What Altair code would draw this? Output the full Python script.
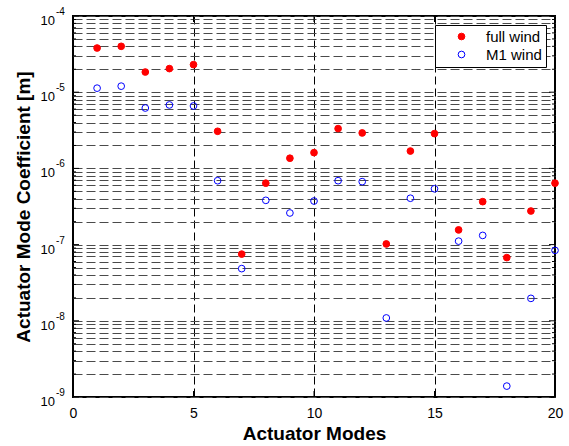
import altair as alt
import pandas as pd

modes = list(range(1, 21))
full_wind = [3.8e-5, 4.0e-5, 1.84e-5, 2.04e-5, 2.3e-5, 3.07e-6, 7.5e-8, 6.4e-7, 1.36e-6, 1.61e-6,
             3.33e-6, 2.92e-6, 1.02e-7, 1.69e-6, 2.86e-6, 1.56e-7, 3.66e-7, 6.75e-8, 2.76e-7, 6.4e-7]
m1_wind = [1.13e-5, 1.2e-5, 6.2e-6, 6.8e-6, 6.6e-6, 6.9e-7, 4.84e-8, 3.81e-7, 2.6e-7, 3.73e-7,
           6.9e-7, 6.7e-7, 1.09e-8, 4.06e-7, 5.4e-7, 1.11e-7, 1.32e-7, 1.39e-9, 1.97e-8, 8.4e-8]
series_names = ["full wind", "M1 wind"]
x_ticks = [0, 5, 10, 15, 20]
decade_exps = [-9, -8, -7, -6, -5, -4]
decades = [10.0 ** e for e in decade_exps]
minor_mult = [2, 3, 4, 5, 6, 7, 8, 9]
minors = [m * 10.0 ** e for e in decade_exps[:-1] for m in minor_mult]
grid_vals = sorted(decades + minors)

W, H = 482, 381
FONT = "Liberation Sans"

df = pd.DataFrame({
    "mode": modes * 2,
    "value": full_wind + m1_wind,
    "series": [series_names[0]] * 20 + [series_names[1]] * 20,
})

xscale = alt.Scale(domain=[0, 20], nice=False, zero=False)
yscale = alt.Scale(type="log", domain=[1e-9, 1e-4], nice=False)

xaxis = alt.Axis(
    values=x_ticks, grid=True, gridDash=[8, 4], gridColor="black", gridWidth=1,
    ticks=False, domain=False, labelFont=FONT, labelFontSize=14, labelColor="black",
    labelFlush=False, labelOverlap=False,
    labelPadding=9, title="Actuator Modes", titleFont=FONT, titleFontSize=19,
    titleFontWeight="bold", titleColor="black", titlePadding=4)
yaxis = alt.Axis(
    values=grid_vals, grid=True, gridDash=[9, 4], gridColor="#4a4a4a", gridWidth=1,
    labels=False, ticks=False, domain=False,
    title="Actuator Mode Coefficient [m]", titleFont=FONT, titleFontSize=19,
    titleFontWeight="bold", titleColor="black", titlePadding=40)

legend = alt.Legend(
    title=None, orient="none", legendX=362, legendY=9,
    strokeColor="black", fillColor="white", padding=4,
    labelFont=FONT, labelFontSize=15, labelColor="black",
    symbolSize=45, symbolStrokeWidth=1, symbolOffset=15, labelOffset=17,
    rowPadding=2, labelExpr="datum.label + '\u00a0\u00a0\u00a0'",
)

points = alt.Chart(df).mark_point(shape="circle", size=45, strokeWidth=1, opacity=1).encode(
    x=alt.X("mode:Q", scale=xscale, axis=xaxis),
    y=alt.Y("value:Q", scale=yscale, axis=yaxis),
    color=alt.Color("series:N", scale=alt.Scale(domain=series_names, range=["#ff0000", "#0000ff"]), legend=legend),
    fill=alt.Fill("series:N", scale=alt.Scale(domain=series_names, range=["#ff0000", "transparent"]), legend=legend),
)

ydec = pd.DataFrame({"value": decades, "exp": [str(e) for e in decade_exps]})
yminor = pd.DataFrame({"value": minors})
xt = pd.DataFrame({"mode": x_ticks})

def yrule(data, x1, x2):
    return alt.Chart(data).mark_rule(color="black", strokeWidth=1).encode(
        y=alt.Y("value:Q", scale=yscale, axis=yaxis),
        x=alt.value(x1), x2=alt.value(x2))

def xrule(y1, y2):
    return alt.Chart(xt).mark_rule(color="black", strokeWidth=1).encode(
        x=alt.X("mode:Q", scale=xscale, axis=xaxis),
        y=alt.value(y1), y2=alt.value(y2))

ticks = [
    yrule(ydec, 0, 6), yrule(ydec, W - 6, W),
    yrule(yminor, 0, 3), yrule(yminor, W - 3, W),
    xrule(H - 6, H), xrule(0, 6),
]

base_lbl = alt.Chart(ydec).mark_text(
    text="10", align="right", baseline="alphabetic", font=FONT, fontSize=13, color="black", dy=9
).encode(y=alt.Y("value:Q", scale=yscale, axis=yaxis), x=alt.value(-18))

exp_lbl = alt.Chart(ydec).mark_text(
    align="left", baseline="alphabetic", font=FONT, fontSize=10, color="black", dy=-1
).encode(y=alt.Y("value:Q", scale=yscale, axis=yaxis), x=alt.value(-17), text="exp:N")

chart = alt.layer(*ticks, points, base_lbl, exp_lbl).properties(
    width=W, height=H,
    autosize=alt.AutoSizeParams(type="none"),
    padding={"left": 73, "top": 16, "right": 14, "bottom": 49},
    background="white",
).configure_view(stroke="black", strokeWidth=2)

chart.save("out.html", embed_options={"renderer": "svg", "actions": False})
